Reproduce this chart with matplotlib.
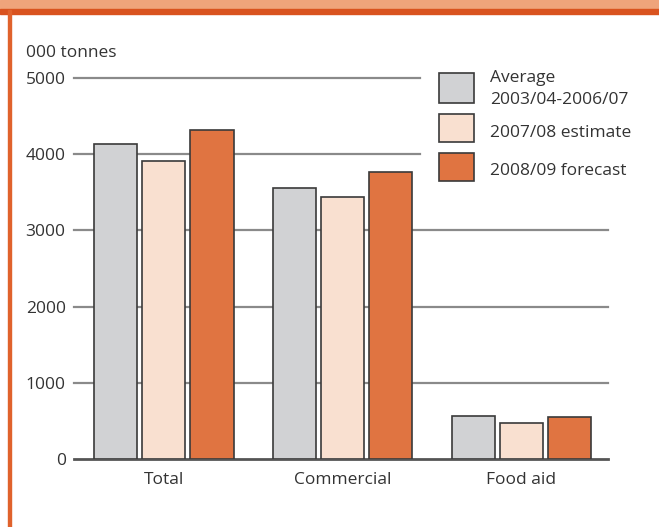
import matplotlib
matplotlib.use("Agg")
import matplotlib.pyplot as plt
from matplotlib.patches import Rectangle
import numpy as np

categories = ["Total", "Commercial", "Food aid"]
series_names = ["Average\n2003/04-2006/07", "2007/08 estimate", "2008/09 forecast"]
avg_0307 = [4130, 3560, 560]
est_0708 = [3910, 3440, 470]
fc_0809 = [4320, 3770, 550]
yticks = [0, 1000, 2000, 3000, 4000, 5000]

colors = ["#D1D2D4", "#F9E0D0", "#E07441"]
edge = "#3a3a3a"
text_c = "#333333"
FS = 12.5

plt.rcParams['font.family'] = ['Open Sans', 'DejaVu Sans']

W, H = 659, 527
fig = plt.figure(figsize=(W / 100, H / 100), dpi=100)

# decorative frame
fig.patches.append(Rectangle((0, 1 - 9 / H), 1, 9 / H, transform=fig.transFigure,
                             color="#EFA47B", zorder=0))
fig.patches.append(Rectangle((0, 1 - 14 / H), 1, 5 / H, transform=fig.transFigure,
                             color="#D9531F", zorder=0))
fig.patches.append(Rectangle((8 / W, 0), 2.5 / W, 1 - 10 / H, transform=fig.transFigure,
                             color="#E0622C", zorder=0))

ax = fig.add_axes([74 / W, 1 - 459 / H, (608 - 74) / W, (459 - 78) / H])
ax.set_xlim(-0.504, 2.487)
ax.set_ylim(0, 5000)
for s in ax.spines.values():
    s.set_visible(False)

# gridlines
for v in yticks:
    if v == 0:
        ax.axhline(v, color="#555555", lw=2.0, zorder=1, clip_on=False)
    elif v >= 4000:
        ax.axhline(v, xmin=0, xmax=0.648, color="#8a8a8a", lw=1.6, zorder=1, clip_on=False)
    else:
        ax.axhline(v, color="#8a8a8a", lw=1.6, zorder=1, clip_on=False)

x = np.arange(len(categories))
bw = 0.241
off = 0.269
for i, vals in enumerate([avg_0307, est_0708, fc_0809]):
    ax.bar(x + (i - 1) * off, vals, width=bw, color=colors[i], edgecolor=edge,
           linewidth=1.2, zorder=3)

ax.set_xticks(x)
ax.set_xticklabels(categories, fontsize=FS, color=text_c)
ax.set_yticks(yticks)
ax.set_yticklabels([str(v) for v in yticks], fontsize=FS, color=text_c)
ax.tick_params(axis='both', length=0)
ax.tick_params(axis='x', pad=9.5)
ax.tick_params(axis='y', pad=6)

fig.text(26 / W, 1 - 53 / H, "000 tonnes", fontsize=FS, color=text_c, va='center', ha='left')

# legend
leg_boxes = [(73, 103), (114, 142), (153, 181)]
leg_text_y = [(78, 100), (133,), (171,)]
for i, (t, b) in enumerate(leg_boxes):
    fig.patches.append(Rectangle((439 / W, 1 - b / H), 35 / W, (b - t) / H,
                                 transform=fig.transFigure, facecolor=colors[i],
                                 edgecolor=edge, linewidth=1.2, zorder=5))
    lines = series_names[i].split("\n")
    for ln, yy in zip(lines, leg_text_y[i]):
        fig.text(490 / W, 1 - yy / H, ln, fontsize=FS, color=text_c, va='center', ha='left')

fig.savefig("out.png", dpi=100)
